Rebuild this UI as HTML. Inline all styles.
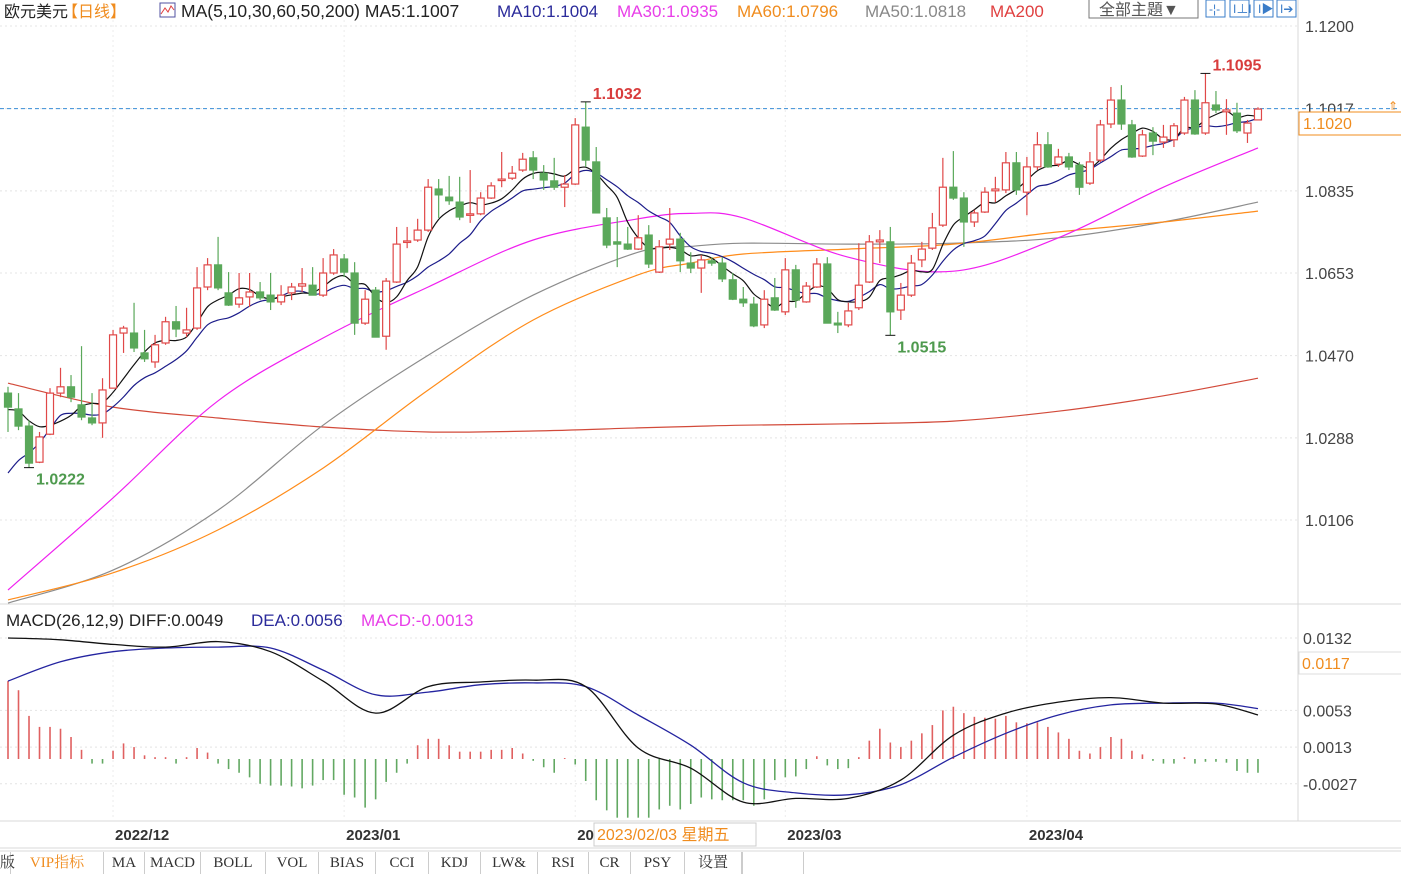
<!DOCTYPE html>
<html><head><meta charset="utf-8">
<style>
html,body{margin:0;padding:0;background:#fff;width:1401px;height:875px;overflow:hidden;font-family:"Liberation Sans","Noto Sans CJK SC",sans-serif;}
#wrap{position:relative;width:1401px;height:875px;}
svg{position:absolute;left:0;top:0;}
.tab{position:absolute;top:852px;height:22px;line-height:22px;font-family:"Liberation Serif","Noto Serif CJK SC",serif;font-size:15px;color:#333;text-align:center;border-right:1px solid #ccc;}
</style></head>
<body>
<div id="wrap">
<svg id="chart" width="1401" height="875" xmlns="http://www.w3.org/2000/svg">
  <g id="grid"></g>
  <g id="ma"></g>
  <g id="candles"></g>
  <g id="macd"></g>
  <g id="axes"></g>
  <g id="legend">
    <text x="4" y="17" font-size="16" fill="#222">欧元美元</text>
    <text x="62" y="17" font-size="16" fill="#f08c1e">【日线】</text>
    <rect x="160" y="3" width="15" height="14" fill="none" stroke="#5050a0"/>
    <polyline points="161,14 165,8 168,12 171,6 174,10" fill="none" stroke="#e04040"/>
    <text x="181" y="17" font-size="17.5" fill="#222">MA(5,10,30,60,50,200) MA5:1.1007</text>
    <text x="497" y="17" font-size="17" fill="#2b2b9b">MA10:1.1004</text>
    <text x="617" y="17" font-size="17" fill="#e83ee8">MA30:1.0935</text>
    <text x="737" y="17" font-size="17" fill="#f08c1e">MA60:1.0796</text>
    <text x="865" y="17" font-size="17" fill="#888">MA50:1.0818</text>
    <text x="990" y="17" font-size="17" fill="#e04040">MA200</text>
    <rect x="1089" y="-1" width="109" height="19" fill="#fff" stroke="#777"/>
    <text x="1099" y="15" font-size="16" fill="#555">全部主題▼</text>
    <g>
      <rect x="1206" y="0" width="19" height="17" fill="#fff" stroke="#3a7cc8"/>
      <text x="1209" y="13" font-size="12" fill="#3a7cc8">-¦-</text>
      <rect x="1230" y="0" width="19" height="17" fill="#fff" stroke="#3a7cc8"/>
      <text x="1233" y="13" font-size="12" fill="#3a7cc8">I⊥I</text>
      <rect x="1254" y="0" width="19" height="17" fill="#fff" stroke="#3a7cc8"/>
      <text x="1258" y="13" font-size="12" fill="#3a7cc8">I▶</text>
      <rect x="1277" y="0" width="19" height="17" fill="#fff" stroke="#3a7cc8"/>
      <text x="1280" y="13" font-size="12" fill="#3a7cc8">I➔</text>
    </g>
    <text x="6" y="626" font-size="17" fill="#222">MACD(26,12,9) DIFF:0.0049</text>
    <text x="251" y="626" font-size="17" fill="#2b2b9b">DEA:0.0056</text>
    <text x="361" y="626" font-size="17" fill="#e83ee8">MACD:-0.0013</text>
  </g>
</svg>
<div class="tab" style="left:0;width:10px;">版</div>
<div class="tab" style="left:11px;width:92px;color:#f08c1e;">VIP指标</div>
<div class="tab" style="left:104px;width:40px;">MA</div>
<div class="tab" style="left:145px;width:55px;">MACD</div>
<div class="tab" style="left:201px;width:64px;">BOLL</div>
<div class="tab" style="left:266px;width:52px;">VOL</div>
<div class="tab" style="left:319px;width:56px;">BIAS</div>
<div class="tab" style="left:376px;width:52px;">CCI</div>
<div class="tab" style="left:429px;width:51px;">KDJ</div>
<div class="tab" style="left:481px;width:56px;">LW&amp;</div>
<div class="tab" style="left:538px;width:50px;">RSI</div>
<div class="tab" style="left:589px;width:41px;">CR</div>
<div class="tab" style="left:631px;width:53px;">PSY</div>
<div class="tab" style="left:685px;width:56px;">设置</div>
<div class="tab" style="left:742px;width:60px;border-left:1px solid #ccc;"></div>
</div>
<script>
// ---- price data (visible candles) ----
const opens  = [1.0387,1.0352,1.0314,1.0234,1.0296,1.0387,1.0401,1.0361,1.0332,1.0321,1.0398,1.0520,1.0520,1.0476,1.0456,1.0498,1.0545,1.0520,1.0531,1.0622,1.0671,1.0609,1.0584,1.0600,1.0611,1.0604,1.0589,1.0609,1.0624,1.0626,1.0604,1.0653,1.0684,1.0653,1.0542,1.0615,1.0513,1.0633,1.0722,1.0726,1.0748,1.0839,1.0821,1.0810,1.0781,1.0784,1.0819,1.0859,1.0863,1.0881,1.0908,1.0874,1.0857,1.0843,1.0850,1.0976,1.0899,1.0775,1.0722,1.0717,1.0706,1.0737,1.0655,1.0717,1.0728,1.0675,1.0664,1.0680,1.0675,1.0638,1.0595,1.0584,1.0538,1.0598,1.0567,1.0660,1.0589,1.0622,1.0673,1.0542,1.0538,1.0576,1.0633,1.0722,1.0722,1.0571,1.0604,1.0682,1.0708,1.0759,1.0843,1.0819,1.0766,1.0788,1.0835,1.0837,1.0897,1.0832,1.0888,1.0937,1.0894,1.0910,1.0892,1.0852,1.0903,1.0983,1.1036,1.0981,1.0912,1.0963,1.0943,1.0948,1.0963,1.1036,1.0963,1.1025,1.1010,1.1007,1.0963,1.0992];
const highs  = [1.0401,1.0387,1.0327,1.0301,1.0398,1.0443,1.0427,1.0491,1.0387,1.0420,1.0527,1.0536,1.0587,1.0527,1.0516,1.0556,1.0580,1.0576,1.0666,1.0686,1.0733,1.0655,1.0653,1.0653,1.0633,1.0653,1.0626,1.0631,1.0664,1.0666,1.0686,1.0706,1.0695,1.0677,1.0615,1.0622,1.0642,1.0755,1.0755,1.0773,1.0861,1.0861,1.0868,1.0866,1.0881,1.0832,1.0854,1.0921,1.0890,1.0919,1.0923,1.0892,1.0908,1.0870,1.0996,1.1032,1.0932,1.0797,1.0777,1.0755,1.0781,1.0759,1.0726,1.0797,1.0742,1.0699,1.0693,1.0688,1.0688,1.0653,1.0622,1.0600,1.0615,1.0642,1.0686,1.0671,1.0633,1.0686,1.0688,1.0567,1.0587,1.0719,1.0737,1.0748,1.0755,1.0631,1.0693,1.0722,1.0786,1.0908,1.0923,1.0832,1.0793,1.0843,1.0866,1.0921,1.0921,1.0910,1.0965,1.0965,1.0928,1.0919,1.0899,1.0921,1.0992,1.1065,1.1069,1.0992,1.0970,1.0976,1.0981,1.0985,1.1043,1.1058,1.1095,1.1056,1.1038,1.1030,1.0992,1.1020];
const lows   = [1.0301,1.0305,1.0222,1.0232,1.0294,1.0378,1.0367,1.0327,1.0316,1.0288,1.0398,1.0476,1.0478,1.0456,1.0443,1.0494,1.0511,1.0511,1.0527,1.0615,1.0615,1.0580,1.0576,1.0578,1.0593,1.0571,1.0582,1.0593,1.0611,1.0604,1.0600,1.0649,1.0644,1.0516,1.0538,1.0511,1.0483,1.0631,1.0708,1.0722,1.0744,1.0775,1.0804,1.0770,1.0764,1.0781,1.0817,1.0843,1.0859,1.0877,1.0861,1.0837,1.0837,1.0799,1.0848,1.0888,1.0786,1.0708,1.0666,1.0704,1.0704,1.0664,1.0653,1.0704,1.0655,1.0653,1.0609,1.0669,1.0633,1.0593,1.0578,1.0533,1.0531,1.0569,1.0560,1.0576,1.0587,1.0620,1.0542,1.0520,1.0533,1.0571,1.0631,1.0675,1.0515,1.0549,1.0600,1.0666,1.0704,1.0755,1.0815,1.0711,1.0755,1.0786,1.0810,1.0830,1.0826,1.0781,1.0881,1.0886,1.0888,1.0881,1.0826,1.0848,1.0899,1.0974,1.0970,1.0908,1.0910,1.0914,1.0930,1.0932,1.0959,1.0959,1.0959,1.1007,1.0959,1.0963,1.0941,1.0992];
const closes = [1.0356,1.0314,1.0232,1.0290,1.0387,1.0401,1.0378,1.0334,1.0321,1.0394,1.0516,1.0531,1.0487,1.0463,1.0494,1.0545,1.0529,1.0527,1.0620,1.0671,1.0620,1.0582,1.0598,1.0611,1.0598,1.0589,1.0604,1.0622,1.0629,1.0604,1.0653,1.0693,1.0655,1.0542,1.0595,1.0511,1.0635,1.0717,1.0724,1.0748,1.0843,1.0826,1.0813,1.0777,1.0784,1.0819,1.0846,1.0861,1.0874,1.0905,1.0881,1.0859,1.0843,1.0850,1.0981,1.0903,1.0786,1.0715,1.0717,1.0706,1.0731,1.0673,1.0711,1.0728,1.0680,1.0664,1.0682,1.0675,1.0640,1.0595,1.0587,1.0536,1.0595,1.0571,1.0660,1.0593,1.0624,1.0673,1.0542,1.0538,1.0569,1.0626,1.0722,1.0726,1.0567,1.0604,1.0675,1.0706,1.0753,1.0843,1.0819,1.0766,1.0786,1.0832,1.0839,1.0897,1.0837,1.0888,1.0937,1.0888,1.0910,1.0888,1.0843,1.0899,1.0981,1.1036,1.0983,1.0910,1.0959,1.0945,1.0954,1.0979,1.1036,1.0961,1.1030,1.1014,1.1014,1.0968,1.0985,1.1016];
const priorCloses = [1.0040,1.0060,1.0070,1.0080,1.0100,1.0330,1.0340,1.0355,1.0371];
const lastPrice = 1.1017;
// ---- long moving averages sampled at candle indices ----
const maIdx   = [0,10,20,30,40,50,60,65,70,80,90,100,110,119];
const ma30    = [0.9951,1.0155,1.0370,1.0509,1.0622,1.0726,1.0773,1.0785,1.0775,1.0688,1.0657,1.0731,1.0843,1.0930];
const ma60    = [0.9929,0.9989,1.0084,1.0221,1.0394,1.0549,1.0649,1.0675,1.0695,1.0706,1.0717,1.0744,1.0766,1.0790];
const ma50    = [0.9922,0.9995,1.0128,1.0316,1.0471,1.0604,1.0699,1.0712,1.0719,1.0717,1.0719,1.0731,1.0766,1.0810];
const ma200   = [1.0409,1.0356,1.0332,1.0312,1.0301,1.0303,1.0310,1.0313,1.0316,1.0319,1.0325,1.0347,1.0381,1.0420];
// ---- MACD ----
const macdIdx = [0,5,10,15,20,25,30,35,40,45,50,55,60,65,70,75,80,85,90,95,100,105,110,115,119];
const diffVals= [0.0132,0.0130,0.0125,0.0122,0.0128,0.0117,0.0085,0.0050,0.0079,0.0084,0.0086,0.0079,0.0012,-0.0010,-0.0047,-0.0043,-0.0043,-0.0023,0.0026,0.0050,0.0062,0.0067,0.0061,0.0060,0.0048];
const deaVals = [0.0085,0.0106,0.0117,0.0121,0.0122,0.0121,0.0097,0.0070,0.0073,0.0081,0.0083,0.0079,0.0048,0.0015,-0.0026,-0.0037,-0.0039,-0.0028,0.0002,0.0028,0.0048,0.0059,0.0061,0.0061,0.0055];
const histVals= [0.0085,0.0075,0.0047,0.0035,0.0035,0.0033,0.0024,0.0010,-0.0005,-0.0005,0.0009,0.0017,0.0013,0.0004,0.0002,0.0002,-0.0005,0.0002,0.0012,0.0007,-0.0005,-0.0011,-0.0015,-0.0020,-0.0027,-0.0029,-0.0029,-0.0030,-0.0032,-0.0029,-0.0023,-0.0023,-0.0039,-0.0042,-0.0053,-0.0044,-0.0025,-0.0015,-0.0005,0.0015,0.0022,0.0022,0.0015,0.0008,0.0008,0.0008,0.0010,0.0010,0.0012,0.0006,-0.0002,-0.0009,-0.0015,0.0001,-0.0006,-0.0024,-0.0045,-0.0056,-0.0064,-0.0064,-0.0064,-0.0064,-0.0055,-0.0051,-0.0055,-0.0049,-0.0042,-0.0044,-0.0045,-0.0045,-0.0045,-0.0051,-0.0044,-0.0023,-0.0020,-0.0019,-0.0011,0.0003,-0.0007,-0.0011,-0.0010,0.0002,0.0020,0.0033,0.0018,0.0013,0.0020,0.0028,0.0037,0.0053,0.0057,0.0050,0.0046,0.0045,0.0044,0.0047,0.0040,0.0039,0.0040,0.0035,0.0029,0.0022,0.0009,0.0006,0.0013,0.0024,0.0022,0.0009,0.0005,-0.0002,-0.0005,-0.0005,0.0002,-0.0005,-0.0003,-0.0003,-0.0004,-0.0013,-0.0015,-0.0015];
// ---- axes ----
const priceTicks = ["1.1200","1.1017","1.0835","1.0653","1.0470","1.0288","1.0106"];
const macdTicks  = ["0.0132","0.0053","0.0013","-0.0027"];
const monthLabels= ["2022/12","2023/01","2023/02","2023/03","2023/04"];
const monthIdx   = [10,32,54,74,97];
const markMaxIdx = [55,114];
const markMinIdx = [2,84];

const NS="http://www.w3.org/2000/svg";
const xOf = i => 8 + i*10.504;
const yP = p => 26 + (1.12 - p)*4515.6;
const yM = v => 759 - v*9170;
function mk(tag, attrs, parent){const e=document.createElementNS(NS,tag);for(const k in attrs)e.setAttribute(k,attrs[k]);parent.appendChild(e);return e;}
const G=id=>document.getElementById(id);
function smoothPath(P){
  let d='M'+P[0][0].toFixed(1)+','+P[0][1].toFixed(1);
  for(let i=0;i<P.length-1;i++){
    const p0=P[Math.max(0,i-1)],p1=P[i],p2=P[i+1],p3=P[Math.min(P.length-1,i+2)];
    const c1=[p1[0]+(p2[0]-p0[0])/6,p1[1]+(p2[1]-p0[1])/6],c2=[p2[0]-(p3[0]-p1[0])/6,p2[1]-(p3[1]-p1[1])/6];
    d+=' C'+c1[0].toFixed(1)+','+c1[1].toFixed(1)+' '+c2[0].toFixed(1)+','+c2[1].toFixed(1)+' '+p2[0].toFixed(1)+','+p2[1].toFixed(1);
  }
  return d;
}

// grid + frames
const grid=G('grid');
priceTicks.forEach(t=>{const l=mk('line',{x1:0,x2:1298,y1:yP(+t),y2:yP(+t),stroke:'#e4e4e4','stroke-dasharray':'2,3'},grid);

});
macdTicks.forEach(t=>{const l=mk('line',{x1:0,x2:1298,y1:yM(+t),y2:yM(+t),stroke:'#e4e4e4','stroke-dasharray':'2,3'},grid);

});
monthIdx.forEach(i=>{const l=mk('line',{x1:xOf(i),x2:xOf(i),y1:20,y2:820,stroke:'#ececec','stroke-dasharray':'2,3'},grid);

});
[[0,604,1401,604],[0,821,1401,821],[1298,0,1298,821],[0,848,1401,848],[0,851,1401,851]].forEach(a=>{const l=mk('line',{x1:a[0],y1:a[1],x2:a[2],y2:a[3],stroke:'#d8d8d8'},grid);

});

// moving averages
const maG=G('ma');
function sampledLine(idx, vals, color, name){
  const P=idx.map((i,k)=>[xOf(i),yP(vals[k])]);
  const pl=mk('path',{d:smoothPath(P),fill:'none',stroke:color,'stroke-width':1.2},maG);
  
  
}
sampledLine(maIdx,ma200,'#d24a3a','ma200-line');
sampledLine(maIdx,ma50,'#8c8c8c','ma50-line');
sampledLine(maIdx,ma60,'#ff8c1a','ma60-line');
sampledLine(maIdx,ma30,'#f020f0','ma30-line');
function smaLine(n,color,name){
  const all=priorCloses.concat(closes), off=priorCloses.length, P=[];
  for(let i=0;i<closes.length;i++){let s=0,c=0;for(let j=Math.max(0,i+off-n+1);j<=i+off;j++){s+=all[j];c++;}P.push([xOf(i),yP(s/c)]);}
  const pl=mk('path',{d:smoothPath(P),fill:'none',stroke:color,'stroke-width':1.2},maG);
  
  
}
smaLine(10,'#1c1c8a','ma10-line');
smaLine(5,'#111','ma5-line');

// last price dashed line
const dl=mk('line',{x1:0,x2:1398,y1:yP(lastPrice),y2:yP(lastPrice),stroke:'#3a8fd8','stroke-dasharray':'4,3'},maG);



// candles
const cG=G('candles');
for(let i=0;i<closes.length;i++){
  const up=closes[i]>=opens[i], col=up?'#e04848':'#5aa85a', x=xOf(i);
  const w=mk('line',{x1:x,x2:x,y1:yP(highs[i]),y2:yP(lows[i]),stroke:col,'stroke-width':1.2},cG);
  
  
  const top=yP(Math.max(opens[i],closes[i])), h=Math.max(1.5,Math.abs(yP(opens[i])-yP(closes[i])));
  const b=mk('rect',{x:x-3.5,y:top,width:7,height:h,fill:up?'#fff':col,stroke:col,'stroke-width':1.2},cG);
  
  
}
// extreme markers
function marker(i,val,above,color){
  const x=xOf(i), y=yP(val);
  const c1=mk('line',{x1:x-5,x2:x+5,y1:y,y2:y,stroke:'#111'},cG);
  
  
  const t=mk('text',{x:x+7,y:above?y-3:y+17,'font-size':16,'font-weight':'bold',fill:color},cG);
  t.textContent=val.toFixed(4);
  
  
}
markMaxIdx.forEach(i=>marker(i,highs[i],true,'#d83c3c'));
markMinIdx.forEach(i=>marker(i,lows[i],false,'#4e9a4e'));

// MACD
const mG=G('macd');
histVals.forEach((v,i)=>{const x=xOf(i);
  const r=mk('line',{x1:x,x2:x,y1:yM(0),y2:yM(v),stroke:v>=0?'#e06060':'#62a862','stroke-width':1.6},mG);
  
  });
function mLine(vals,color,name){
  const P=macdIdx.map((i,k)=>[xOf(i),yM(vals[k])]);
  const pl=mk('path',{d:smoothPath(P),fill:'none',stroke:color,'stroke-width':1.3},mG);
  
  
}
mLine(deaVals,'#2424a0','dea-line');
mLine(diffVals,'#111','diff-line');

// axes labels
const aG=G('axes');
priceTicks.forEach(t=>{const e=mk('text',{x:1305,y:yP(+t)+6,'font-size':16,fill:'#444'},aG);e.textContent=t;

});
macdTicks.forEach(t=>{const e=mk('text',{x:1303,y:yM(+t)+6,'font-size':16,fill:'#444'},aG);e.textContent=t;

});
const pb=mk('rect',{x:1299,y:112,width:104,height:23,fill:'#fff',stroke:'#f08c1e'},aG);


const pt=mk('text',{x:1303,y:129,'font-size':16,fill:'#f08c1e'},aG);pt.textContent='1.1020';


const ar=mk('text',{x:1388,y:110,'font-size':12,fill:'#f08c1e'},aG);ar.textContent='⇑';


const mb=mk('rect',{x:1299,y:652,width:104,height:22,fill:'#fff',stroke:'#ddd'},aG);


const mt=mk('text',{x:1302,y:669,'font-size':16,fill:'#f08c1e'},aG);mt.textContent='0.0117';


monthLabels.forEach((m,k)=>{const e=mk('text',{x:xOf(monthIdx[k])+2,y:840,'font-size':15,'font-weight':'bold',fill:'#333'},aG);e.textContent=m;

});
const tb=mk('rect',{x:594,y:823,width:162,height:23,fill:'#fff',stroke:'#ccc'},aG);


const tt=mk('text',{x:597,y:840,'font-size':16,fill:'#f08c1e'},aG);tt.textContent='2023/02/03 星期五';


</script>
</body></html>
